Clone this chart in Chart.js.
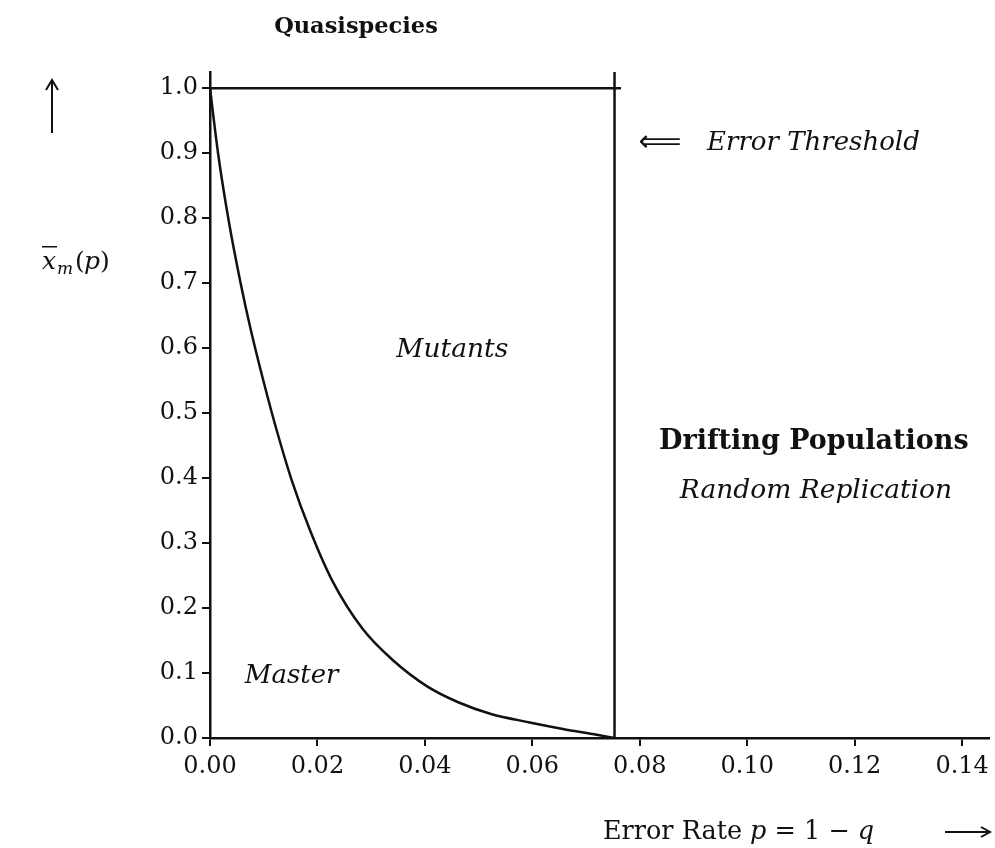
<!DOCTYPE html>
<html>
<head>
<meta charset="utf-8">
<script src="https://cdn.jsdelivr.net/npm/chart.js@4"></script>
<style>
  body { margin: 0; background: #fff; }
  #wrap { width: 995px; height: 848px; }
</style>
</head>
<body>
<div id="wrap"><canvas id="chart"></canvas></div>
<script>
// values
const errorRate = [0, 0.0015, 0.0034, 0.0057, 0.0076, 0.0099, 0.0124, 0.0152, 0.0186, 0.0227, 0.0284, 0.034, 0.0405, 0.0462, 0.0523, 0.0595, 0.0657, 0.072, 0.0753];
const masterFraction = [1.0, 0.9, 0.8, 0.7, 0.628, 0.551, 0.474, 0.397, 0.32, 0.243, 0.168, 0.12, 0.079, 0.055, 0.037, 0.024, 0.014, 0.005, 0];
const thresholdP = 0.0753;
const totalLineP = [0, 0.0765];
const totalLineY = [1.0, 1.0];
const thresholdY = [0, 1.025];
const xTickStep = 0.02;
const yTickStep = 0.1;

const serif = '"DejaVu Serif", serif';
const ink = '#111';

const toXY = (xs, ys) => xs.map((x, i) => ({ x: x, y: ys[i] }));

const labels = {
  id: 'labels',
  afterDraw(chart) {
    const ctx = chart.ctx;
    const sx = chart.scales.x, sy = chart.scales.y;
    ctx.save();
    ctx.fillStyle = ink;
    ctx.strokeStyle = ink;
    ctx.textBaseline = 'middle';

    const text = (t, x, y, font, align) => {
      ctx.font = font;
      ctx.textAlign = align || 'center';
      ctx.fillText(t, x, y);
    };

    text('Quasispecies', 356, 27, 'bold 22.5px ' + serif);

    // labels inside the plot, placed in data units
    text('Mutants', sx.getPixelForValue(0.0451), sy.getPixelForValue(0.597), 'italic 26.5px ' + serif);
    text('Master', sx.getPixelForValue(0.0152), sy.getPixelForValue(0.095), 'italic 26px ' + serif);
    text('Drifting Populations', sx.getPixelForValue(0.1124), sy.getPixelForValue(0.455), 'bold 27px ' + serif);
    text('Random Replication', sx.getPixelForValue(0.1128), sy.getPixelForValue(0.38), 'italic 26.5px ' + serif);

    // error threshold marker
    text('\u27F8', 660, 143, '30px "DejaVu Sans"');
    text('Error Threshold', 707, 143, 'italic 26px ' + serif, 'left');

    // y axis label with arrow
    ctx.lineWidth = 2;
    ctx.beginPath();
    ctx.moveTo(52, 133); ctx.lineTo(52, 82);
    ctx.stroke();
    ctx.beginPath();
    ctx.moveTo(46, 90); ctx.lineTo(52, 80); ctx.lineTo(58, 90);
    ctx.stroke();

    ctx.font = 'italic 25px ' + serif;
    ctx.textAlign = 'left';
    ctx.fillText('x', 42, 262);
    ctx.fillRect(42, 246, 15, 1.5);
    ctx.font = 'italic 17px ' + serif;
    ctx.fillText('m', 57, 270);
    ctx.font = '25px ' + serif;
    ctx.fillText('(', 75, 262);
    ctx.font = 'italic 25px ' + serif;
    ctx.fillText('p', 84, 262);
    ctx.font = '25px ' + serif;
    ctx.fillText(')', 100, 262);

    // x axis label with arrow
    let cx = 603;
    const parts = [['Error Rate ', ''], ['p', 'italic '], [' = 1 \u2212 ', ''], ['q', 'italic ']];
    parts.forEach(([t, st]) => {
      ctx.font = st + '25.5px ' + serif;
      ctx.textAlign = 'left';
      ctx.fillText(t, cx, 832);
      cx += ctx.measureText(t).width;
    });
    ctx.beginPath();
    ctx.moveTo(945, 832); ctx.lineTo(988, 832);
    ctx.stroke();
    ctx.beginPath();
    ctx.moveTo(981, 827); ctx.lineTo(990, 832); ctx.lineTo(981, 837);
    ctx.stroke();

    ctx.restore();
  }
};

new Chart(document.getElementById('chart'), {
  type: 'scatter',
  data: {
    datasets: [
      {
        data: toXY(errorRate, masterFraction),
        showLine: true,
        borderColor: ink,
        borderWidth: 2.5,
        pointRadius: 0,
        cubicInterpolationMode: 'monotone'
      },
      {
        data: toXY(totalLineP, totalLineY),
        showLine: true,
        borderColor: ink,
        borderWidth: 2.5,
        pointRadius: 0
      },
      {
        data: toXY([thresholdP, thresholdP], thresholdY),
        showLine: true,
        borderColor: ink,
        borderWidth: 2.5,
        pointRadius: 0
      }
    ]
  },
  options: {
    responsive: true,
    maintainAspectRatio: false,
    devicePixelRatio: 1,
    animation: false,
    layout: { padding: { top: 72, right: 5, bottom: 50, left: 0 } },
    plugins: {
      legend: { display: false },
      tooltip: { enabled: false }
    },
    scales: {
      x: {
        type: 'linear',
        min: 0,
        max: 0.145,
        afterFit(scale) { scale.height = 60; },
        grid: { drawOnChartArea: false, tickLength: 8, color: ink, lineWidth: 2 },
        border: { color: ink, width: 2.5 },
        ticks: {
          stepSize: xTickStep,
          includeBounds: false,
          padding: 6,
          color: ink,
          font: { family: serif, size: 24 },
          maxRotation: 0,
          callback: (v) => v.toFixed(2)
        }
      },
      y: {
        type: 'linear',
        min: 0,
        max: 1.025,
        afterFit(scale) { scale.width = 210; },
        grid: { drawOnChartArea: false, tickLength: 8, color: ink, lineWidth: 2 },
        border: { color: ink, width: 2.5 },
        ticks: {
          stepSize: yTickStep,
          includeBounds: false,
          padding: 4,
          color: ink,
          font: { family: serif, size: 24 },
          callback: (v) => v.toFixed(1)
        }
      }
    }
  },
  plugins: [labels]
});
</script>
</body>
</html>
